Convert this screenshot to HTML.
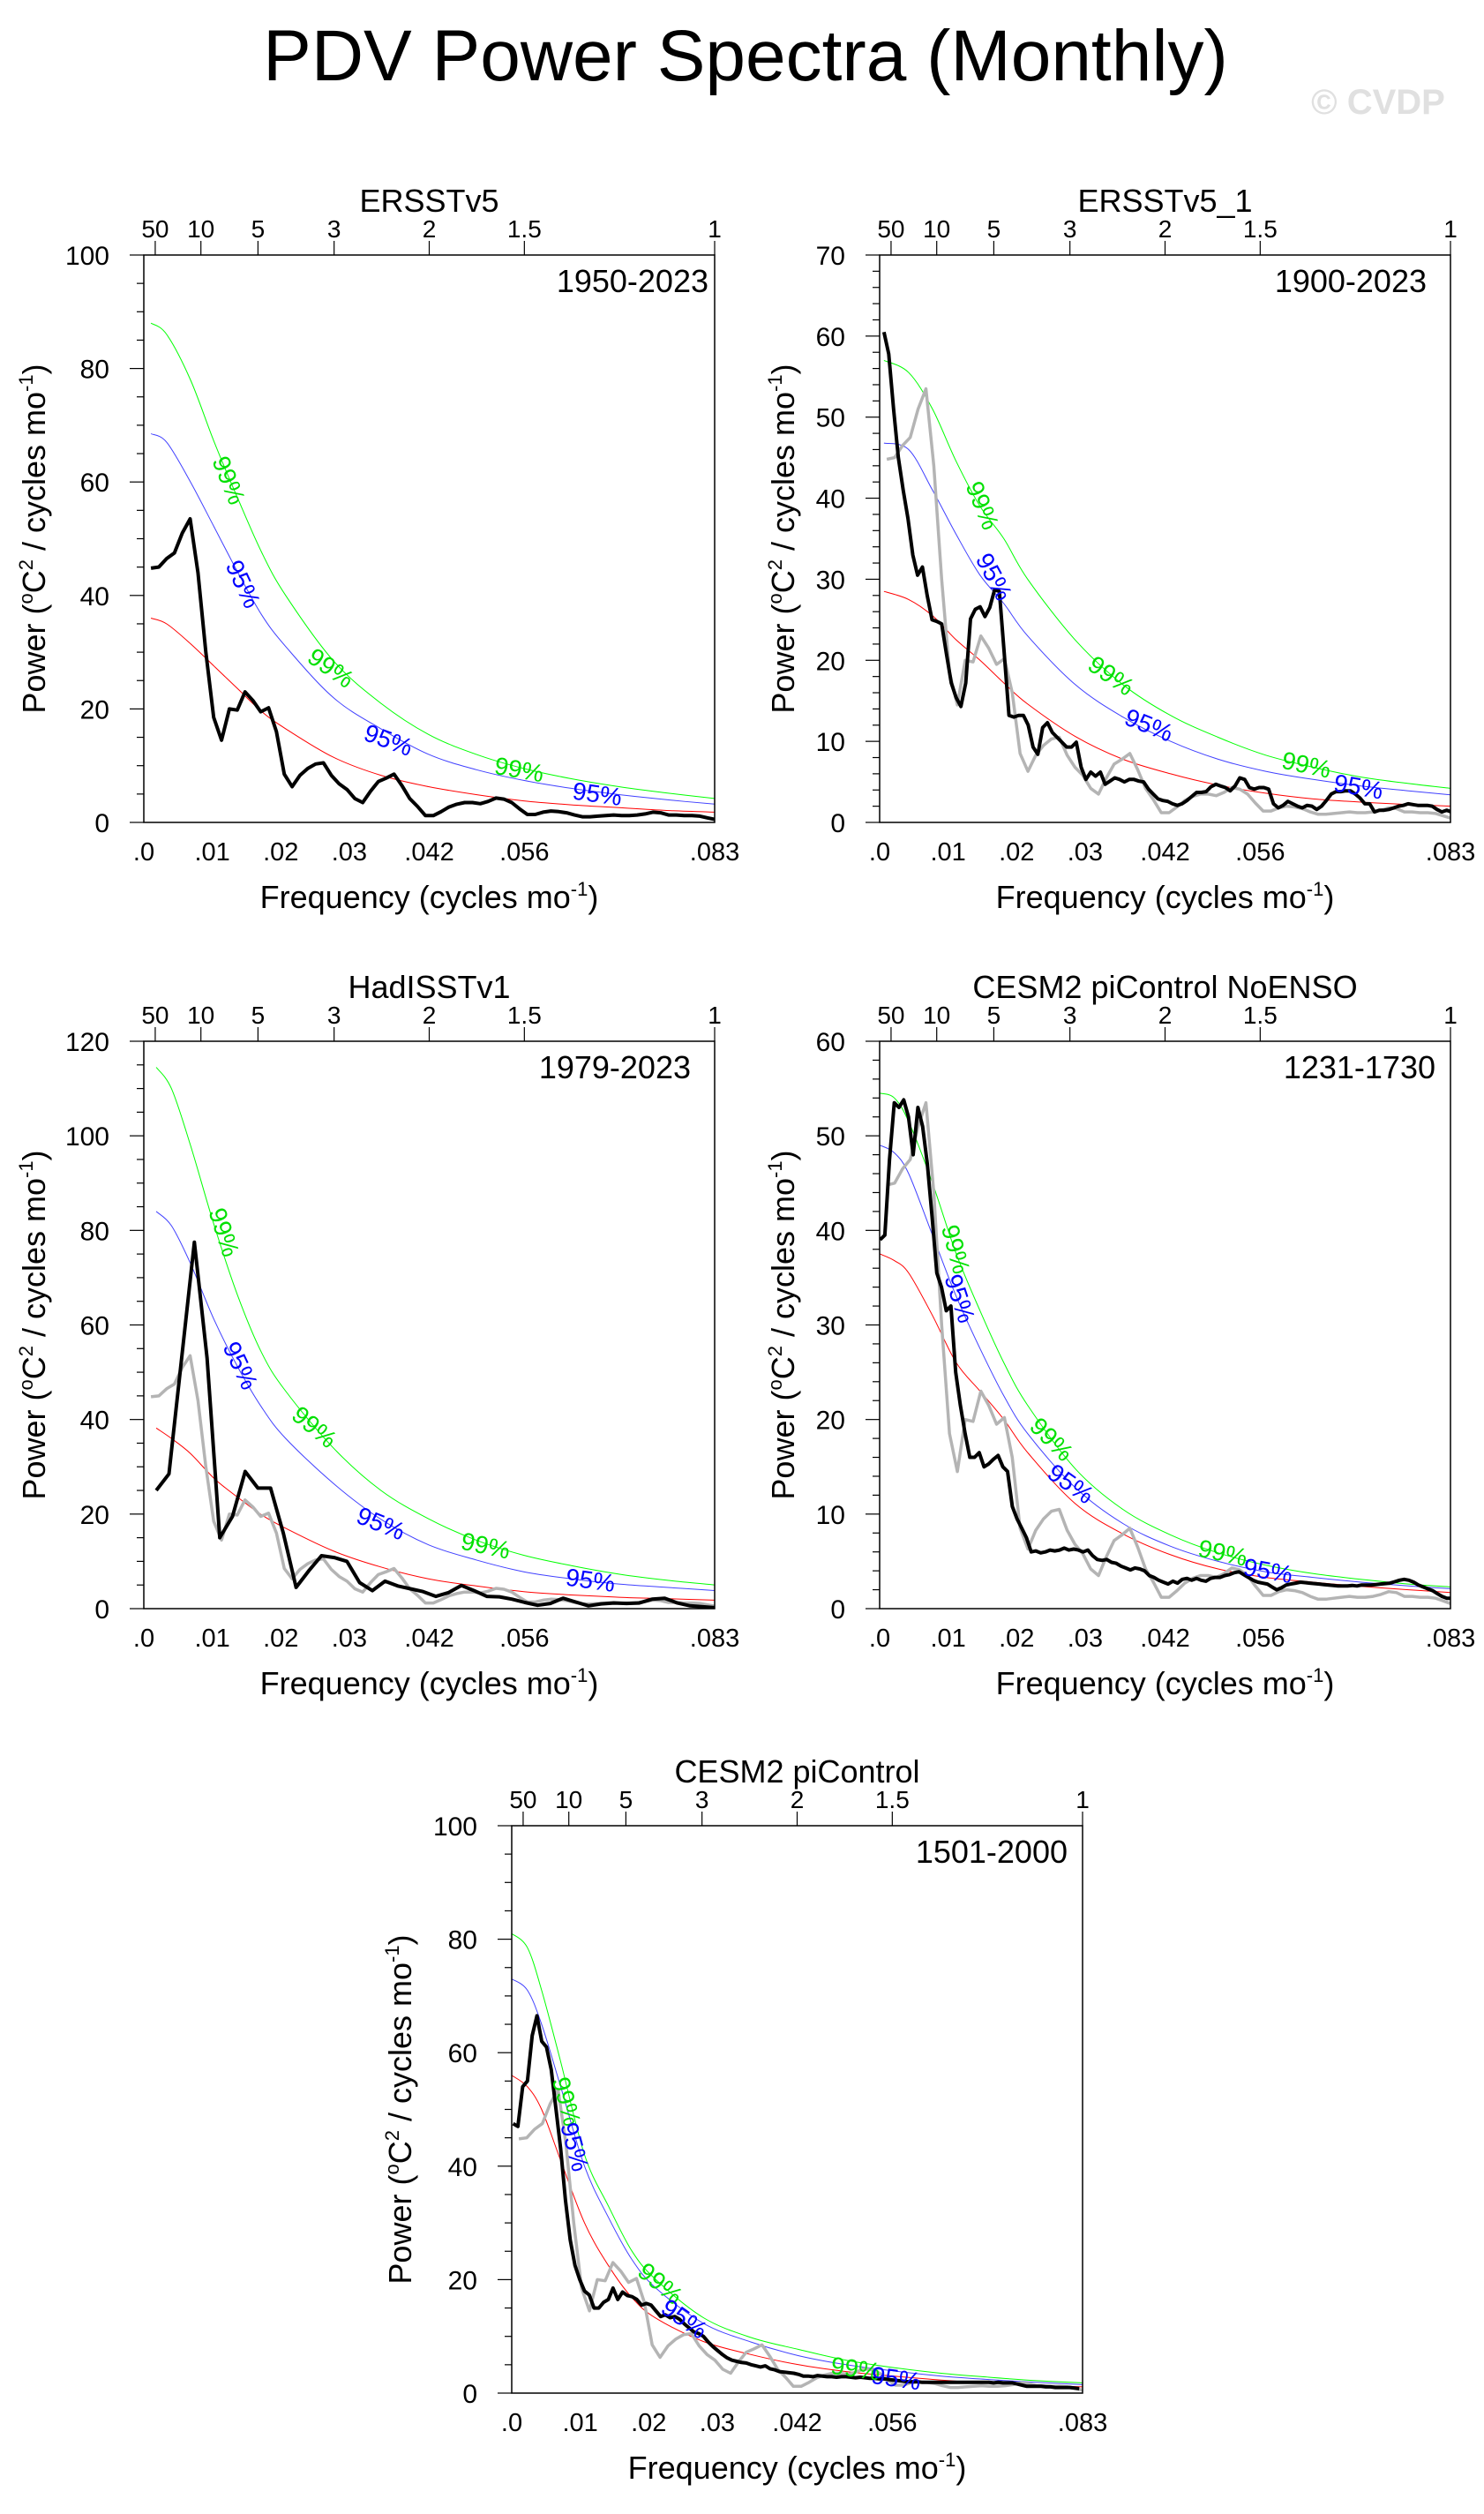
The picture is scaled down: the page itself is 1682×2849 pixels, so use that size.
<!DOCTYPE html>
<html><head><meta charset="utf-8"><title>PDV Power Spectra (Monthly)</title>
<style>
html,body{margin:0;padding:0;background:#fff;}
svg{display:block;font-family:"Liberation Sans",Arial,sans-serif;}
</style></head>
<body>
<svg id="chart" xmlns="http://www.w3.org/2000/svg" width="1682" height="2849" viewBox="0 0 1682 2849">
<rect x="0" y="0" width="1682" height="2849" fill="#fff"/>
<text x="845" y="91" font-size="82" text-anchor="middle" fill="#000">PDV Power Spectra (Monthly)</text>
<text x="1562" y="129" font-size="40" font-weight="bold" text-anchor="middle" fill="#e0e0e0">© CVDP</text>
</svg>
<script>
// All frequencies in milli-cycles per month (cycles mo^-1 x 1000)
const xTickVals=[0,10,20,30,41.667,55.556,83.333];
const xTickLabels=[".0",".01",".02",".03",".042",".056",".083"];
const topPeriods=[50,10,5,3,2,1.5,1];

// ERSSTv5 1950-2023 (black in panel 1, grey reference in others)
const obsStart=1.04, obsEnd=83.47;
const obsVals=[44.8,45,46.5,47.5,51,53.5,44,30,18.5,14.5,20,19.8,23,21.5,19.5,20.2,16,8.5,6.3,8.3,9.5,10.3,10.5,8.3,6.8,5.8,4.2,3.5,5.5,7.2,7.8,8.5,6.5,4.2,2.8,1.2,1.2,1.9,2.7,3.2,3.5,3.5,3.3,3.7,4.3,4.1,3.5,2.4,1.4,1.4,1.8,2.0,1.9,1.7,1.3,1.0,1.0,1.1,1.2,1.3,1.2,1.2,1.3,1.5,1.8,1.7,1.3,1.3,1.2,1.2,1.1,0.8,0.5];

// Panel 1 curves
const p1CurveF=[1.04,3.34,6.81,10.29,13.76,17.24,20.71,27.66,34.61,41.56,48.51,55.46,62.41,69.36,76.31,83.47];
const p1Red=[36,35,31.5,27.5,23.5,19.5,16.5,11.5,8.3,6.3,4.9,3.8,3.1,2.6,2.1,1.8];
const p1Blue=[68.5,67,60,52,44,36.5,31,22,16.5,12,9.3,7.4,6,4.9,4,3.2];
const p1Green=[88,86,78,67,57,47.5,40,28.5,21,15.5,12,9.5,7.7,6.3,5.2,4.2];

// Panel 2 ERSSTv5_1 1900-2023
const p2Start=0.63, p2End=83.47;
const p2Vals=[60.5,57.8,51,45,41,37.5,33,30.5,31.5,28,25,24.8,24.5,20.8,17.2,15.4,14.3,17.2,25.1,26.3,26.6,25.4,26.5,28.7,28.5,20.9,13.2,13.0,13.2,13.2,12,9.3,8.4,11.7,12.3,11.1,10.5,9.9,9.3,9.3,9.9,6.8,5.3,6.2,5.7,6.2,4.7,5.1,5.5,5.3,5.0,5.3,5.3,5.1,5.0,4.1,3.5,2.9,2.7,2.6,2.3,2.1,2.3,2.7,3.2,3.7,3.7,3.8,4.4,4.7,4.5,4.3,3.9,4.5,5.5,5.3,4.3,4.1,4.3,4.3,4.1,2.3,1.8,2.1,2.6,2.3,2.0,1.8,2.1,2.0,1.6,2.0,2.7,3.5,3.8,3.8,3.9,3.9,3.5,3.0,2.3,2.3,1.3,1.5,1.5,1.6,1.8,2.0,2.1,2.3,2.2,2.1,2.1,2.1,2.0,1.6,1.3,1.5,1.3];
const p2CurveF=[0.63,4.24,7.71,11.19,14.66,18.14,21.61,28.56,35.51,42.46,49.41,56.36,63.31,70.26,77.21,83.47];
const p2Red=[28.5,27.5,25.5,22.5,20,17.2,14.6,10.6,7.8,6.0,4.6,3.6,2.9,2.5,2.2,2.0];
const p2Blue=[46.8,46,41,35.5,30.5,27,23,17,13,10,7.8,6.3,5.3,4.5,3.9,3.4];
const p2Green=[57,55.5,51,44.5,39,35,30,22.5,17,13.2,10.5,8.3,6.8,5.6,4.8,4.2];

// Panel 3 HadISSTv1 1979-2023
const p3Start=1.81, p3End=83.47;
const p3Vals=[25,28.5,53,77.5,53,15,19.5,29,25.5,25.5,16,4.5,8,11.2,10.8,10,5.5,3.8,5.8,4.8,4.2,3.6,2.6,3.4,4.9,3.8,2.6,2.5,2.0,1.3,0.7,1.1,2.2,1.4,0.6,1.0,1.2,1.1,1.2,2.0,2.2,1.2,0.6,0.4,0.2];
const p3CurveF=[1.81,4.03,6.81,10.29,13.76,17.24,20.71,27.66,34.61,41.56,48.51,55.46,62.41,69.36,76.31,83.47];
const p3Red=[38.2,36,32.8,27.5,23.5,19.8,17,12.2,8.8,6.3,4.8,3.6,2.9,2.4,2.1,1.8];
const p3Blue=[84,81,73,61,51,42.5,36,26.5,18.9,13.5,10.3,7.8,6.3,5.2,4.5,3.8];
const p3Green=[114.5,110,98,81,66,54,46,34,25,19,14.5,11.3,9.1,7.3,6,5];

// Panel 4 CESM2 piControl NoENSO 1231-1730
const p4Start=0.07, p4End=83.47;
const p4Vals=[39,39.5,47.5,53.5,53,53.8,52,48,53,51,47,41.5,35.5,34,31.5,32,25,21.5,18.5,16,16,16.5,15,15.3,15.8,16.2,15,14.5,10.8,9.5,8.5,7.5,6.0,6.1,5.9,6.0,6.2,6.1,6.2,6.4,6.2,6.3,6.2,6.0,6.2,5.6,5.2,5.1,5.2,4.9,4.8,4.5,4.3,4.1,4.3,4.2,4.0,3.5,3.3,3.0,2.8,2.6,2.9,2.7,3.1,3.2,3.0,3.2,3.0,2.9,3.2,3.3,3.3,3.5,3.6,3.8,3.9,3.6,3.3,3.0,2.8,2.7,2.6,2.3,2.0,2.2,2.5,2.6,2.7,2.8,2.75,2.7,2.65,2.6,2.55,2.5,2.45,2.4,2.4,2.4,2.45,2.4,2.5,2.5,2.5,2.55,2.6,2.65,2.7,2.85,3.0,3.1,3.0,2.8,2.5,2.3,2.1,1.9,1.6,1.3,1.1,1.1];
const p4CurveF=[0.07,2.15,4.24,7.71,11.19,14.66,18.14,21.61,28.56,35.51,42.46,49.41,56.36,63.31,70.26,77.21,83.47];
const p4Red=[37.5,36.8,35.5,31,26,23,20,16.5,11.1,7.9,5.7,4.2,3.3,2.8,2.35,2.0,1.7];
const p4Blue=[49,48.2,46,39.5,33,27.5,22.5,18.5,12.8,9.0,6.6,5.0,3.9,3.3,2.8,2.4,2.1];
const p4Green=[54.5,54,51.5,45,37.5,31.5,26,21.5,14.8,10.5,7.8,5.9,4.6,3.7,3.1,2.6,2.3];

// Panel 5 CESM2 piControl 1501-2000
const p5Start=0.21, p5End=82.84;
const p5Vals=[47.5,47,54,55,63,66.5,62,61,57,50,43,34,27,22.5,20,18,17.3,15,15,16,16.5,18.5,16.5,17.8,17.2,17,16.5,15.5,15.8,15.5,14.5,13.5,13.8,13.3,13.5,13.0,12.2,11.5,10.8,10.5,10,9,8.2,7.5,6.8,6.2,5.8,5.6,5.4,5.3,5.0,4.8,4.6,4.8,4.3,4.1,3.8,3.7,3.6,3.5,3.3,3.0,3.0,2.9,3.1,3.0,2.9,2.9,2.8,2.9,2.9,2.8,2.7,2.8,2.7,2.6,2.6,2.5,2.5,2.4,2.3,2.2,2.1,2.0,2.0,2.0,1.9,1.9,1.9,1.9,1.9,1.9,1.9,1.9,1.9,1.9,1.9,1.9,1.9,1.9,1.9,1.8,1.9,1.8,1.8,1.8,1.6,1.4,1.2,1.2,1.2,1.2,1.1,1.1,1.0,1.0,1.0,1.0,0.9,0.8];
const p5CurveF=[0,2.29,4.37,7.15,10.62,14.10,17.57,21.04,27.98,34.93,41.87,48.82,55.76,62.70,69.65,76.59,83.33];
const p5Red=[56,54,50,41,30,22.5,16.8,13.2,9.1,6.8,5.0,3.8,3.0,2.3,1.8,1.4,1.1];
const p5Blue=[73,71,65,54,40,31,23.5,18.5,12.3,9.0,6.6,5.0,3.9,3.0,2.4,1.9,1.5];
const p5Green=[81,78.5,71,58.4,42,33,25,20,13.3,9.8,7.7,5.8,4.5,3.5,2.8,2.2,1.8];

const NS="http://www.w3.org/2000/svg";
const svg=document.getElementById('chart');
function mk(tag,attrs,parent){const e=document.createElementNS(NS,tag);for(const k in attrs)e.setAttribute(k,attrs[k]);(parent||svg).appendChild(e);return e;}
function uniformF(a,b,n){const r=[];for(let i=0;i<n;i++)r.push(a+(b-a)*i/(n-1));return r;}
function smoothPath(pts){let d="M"+pts[0][0].toFixed(1)+","+pts[0][1].toFixed(1);
  for(let i=0;i<pts.length-1;i++){const p0=pts[Math.max(0,i-1)],p1=pts[i],p2=pts[i+1],p3=pts[Math.min(pts.length-1,i+2)];
    const c1=[p1[0]+(p2[0]-p0[0])/6,p1[1]+(p2[1]-p0[1])/6],c2=[p2[0]-(p3[0]-p1[0])/6,p2[1]-(p3[1]-p1[1])/6];
    d+=" C"+c1[0].toFixed(1)+","+c1[1].toFixed(1)+" "+c2[0].toFixed(1)+","+c2[1].toFixed(1)+" "+p2[0].toFixed(1)+","+p2[1].toFixed(1);}
  return d;}

const panels=[
 {key:"ersstv5",title:"ERSSTv5",period:"1950-2023",bx:163,by:289,bw:647,bh:643,ymax:100,ymaj:20,ymin:5,pr:7,ytOff:125,
  bf:uniformF(obsStart,obsEnd,obsVals.length),bv:obsVals,gray:false,cf:p1CurveF,red:p1Red,blue:p1Blue,green:p1Green,
  labels:[["99%","g",12.4,60.3,68],["95%","b",14.5,42,65],["99%","g",27.3,27.2,35],["95%","b",35.7,14.5,20],["99%","g",54.8,9.3,10],["95%","b",66.2,5,8]]},
 {key:"ersstv5-1",title:"ERSSTv5_1",period:"1900-2023",bx:997,by:289,bw:647,bh:643,ymax:70,ymaj:10,ymin:2,pr:27,ytOff:110,
  bf:uniformF(p2Start,p2End,p2Vals.length),bv:p2Vals,gray:true,cf:p2CurveF,red:p2Red,blue:p2Blue,green:p2Green,
  labels:[["99%","g",15.0,39.1,68],["95%","b",16.7,30.3,62],["99%","g",33.8,18.1,35],["95%","b",39.3,12.0,22],["99%","g",62.3,7.1,12],["95%","b",69.9,4.4,10]]},
 {key:"hadisstv1",title:"HadISSTv1",period:"1979-2023",bx:163,by:1180,bw:647,bh:643,ymax:120,ymaj:20,ymin:5,pr:27,ytOff:125,
  bf:uniformF(p3Start,p3End,p3Vals.length),bv:p3Vals,gray:true,cf:p3CurveF,red:p3Red,blue:p3Blue,green:p3Green,
  labels:[["99%","g",11.7,79.6,72],["95%","b",14.1,51.4,65],["99%","g",24.9,38.4,40],["95%","b",34.6,18,22],["99%","g",49.9,13.3,12],["95%","b",65.2,6,8]]},
 {key:"cesm2-noenso",title:"CESM2 piControl NoENSO",period:"1231-1730",bx:997,by:1180,bw:647,bh:643,ymax:60,ymaj:10,ymin:2,pr:17,ytOff:110,
  bf:uniformF(p4Start,p4End,p4Vals.length),bv:p4Vals,gray:true,cf:p4CurveF,red:p4Red,blue:p4Blue,green:p4Green,
  labels:[["99%","g",11.1,38,75],["95%","b",11.7,32.8,72],["99%","g",25.1,17.9,45],["95%","b",27.9,13.2,35],["99%","g",50.1,5.9,12],["95%","b",56.7,4.0,10]]},
 {key:"cesm2-picontrol",title:"CESM2 piControl",period:"1501-2000",bx:580,by:2069,bw:647,bh:643,ymax:100,ymaj:20,ymin:5,pr:17,ytOff:127,
  bf:uniformF(p5Start,p5End,p5Vals.length),bv:p5Vals,gray:true,cf:p5CurveF,red:p5Red,blue:p5Blue,green:p5Green,
  labels:[["99%","g",8.0,51.4,75],["95%","b",9.2,43.4,75],["99%","g",21.7,19.3,40],["95%","b",25.2,13.1,35],["99%","g",50.2,4.3,8],["95%","b",56.1,2.6,8]]}
];

panels.forEach(p=>{
  const g=mk('g',{});
  
  
  const X=f=>p.bx+f/83.333*p.bw;
  const Y=v=>p.by+p.bh-v/p.ymax*p.bh;
  const clip=mk('clipPath',{id:'clip-'+p.key},g);
  mk('rect',{x:p.bx,y:p.by,width:p.bw,height:p.bh},clip);
  const plot=mk('g',{'clip-path':'url(#clip-'+p.key+')'},g);
  
  
  [["red","#ff0000","red-noise-curve"],["blue","#0000ff","95-percent-curve"],["green","#00ff00","99-percent-curve"]].forEach(c=>{
    const pts=p.cf.map((f,i)=>[X(f),Y(p[c[0]][i])]);
    const path=mk('path',{d:smoothPath(pts),fill:'none',stroke:c[1],'stroke-width':1,'stroke-opacity':c[0]==='blue'?0.75:1},plot);
    
    
  });
  if(p.gray){
    const gf=uniformF(obsStart,obsEnd,obsVals.length);
    const gl=mk('polyline',{points:gf.map((f,i)=>X(f).toFixed(1)+","+Y(obsVals[i]).toFixed(1)).join(" "),fill:'none',stroke:'#b4b4b4','stroke-width':3.5,'stroke-linejoin':'round'},plot);
    
    
  }
  const bl=mk('polyline',{points:p.bf.map((f,i)=>X(f).toFixed(1)+","+Y(p.bv[i]).toFixed(1)).join(" "),fill:'none',stroke:'#000','stroke-width':4,'stroke-linejoin':'round'},plot);
  
  
  p.labels.forEach(l=>{
    const t=mk('text',{x:X(l[2]),y:Y(l[3]),'font-size':28,'text-anchor':'middle','dominant-baseline':'central',fill:l[1]==='g'?'#00e000':'#0000ff',transform:'rotate('+l[4]+' '+X(l[2]).toFixed(1)+' '+Y(l[3]).toFixed(1)+')'},g);
    t.textContent=l[0];
    
    
  });
  const fr=mk('rect',{x:p.bx,y:p.by,width:p.bw,height:p.bh,fill:'none',stroke:'#000','stroke-width':1.5},g);
  
  
  for(let v=0;v<=p.ymax+1e-9;v+=p.ymin){
    const major=Math.abs(v/p.ymaj-Math.round(v/p.ymaj))<1e-6;
    const tk=mk('line',{x1:p.bx-(major?16:8),x2:p.bx,y1:Y(v),y2:Y(v),stroke:'#000','stroke-width':1.2},g);
    
    
    if(major){
      const tl=mk('text',{x:p.bx-39,y:Y(v)+11,'font-size':30,'text-anchor':'end'},g);
      tl.textContent=String(Math.round(v));
      
      
    }
  }
  xTickVals.forEach((f,i)=>{
    const tl=mk('text',{x:X(f),y:p.by+p.bh+43,'font-size':29,'text-anchor':'middle'},g);
    tl.textContent=xTickLabels[i];
    
    
  });
  topPeriods.forEach(P=>{
    const f=1000/(12*P);
    const tk=mk('line',{x1:X(f),x2:X(f),y1:p.by-16,y2:p.by,stroke:'#000','stroke-width':1.2},g);
    
    
    const tl=mk('text',{x:X(f),y:p.by-20,'font-size':28,'text-anchor':'middle'},g);
    tl.textContent=String(P);
    
    
  });
  const tt=mk('text',{x:p.bx+p.bw/2,y:p.by-49,'font-size':36,'text-anchor':'middle'},g);
  tt.textContent=p.title;
  
  
  const pt=mk('text',{x:p.bx+p.bw-p.pr,y:p.by+42,'font-size':36,'text-anchor':'end'},g);
  pt.textContent=p.period;
  
  
  const xt=mk('text',{x:p.bx+p.bw/2,y:p.by+p.bh+97,'font-size':36,'text-anchor':'middle'},g);
  xt.innerHTML='Frequency (cycles mo<tspan font-size="22" dy="-14">-1</tspan><tspan dy="14">)</tspan>';
  
  
  const cx=p.bx-p.ytOff, cy=p.by+p.bh/2;
  const yt=mk('text',{x:cx,y:cy+13,'font-size':36,'text-anchor':'middle',transform:'rotate(-90 '+cx+' '+cy+')'},g);
  yt.innerHTML='Power (<tspan font-size="22" dy="-14">o</tspan><tspan dy="14">C</tspan><tspan font-size="22" dy="-14">2</tspan><tspan dy="14"> / cycles mo</tspan><tspan font-size="22" dy="-14">-1</tspan><tspan dy="14">)</tspan>';
  
  
});
</script>
</body></html>
